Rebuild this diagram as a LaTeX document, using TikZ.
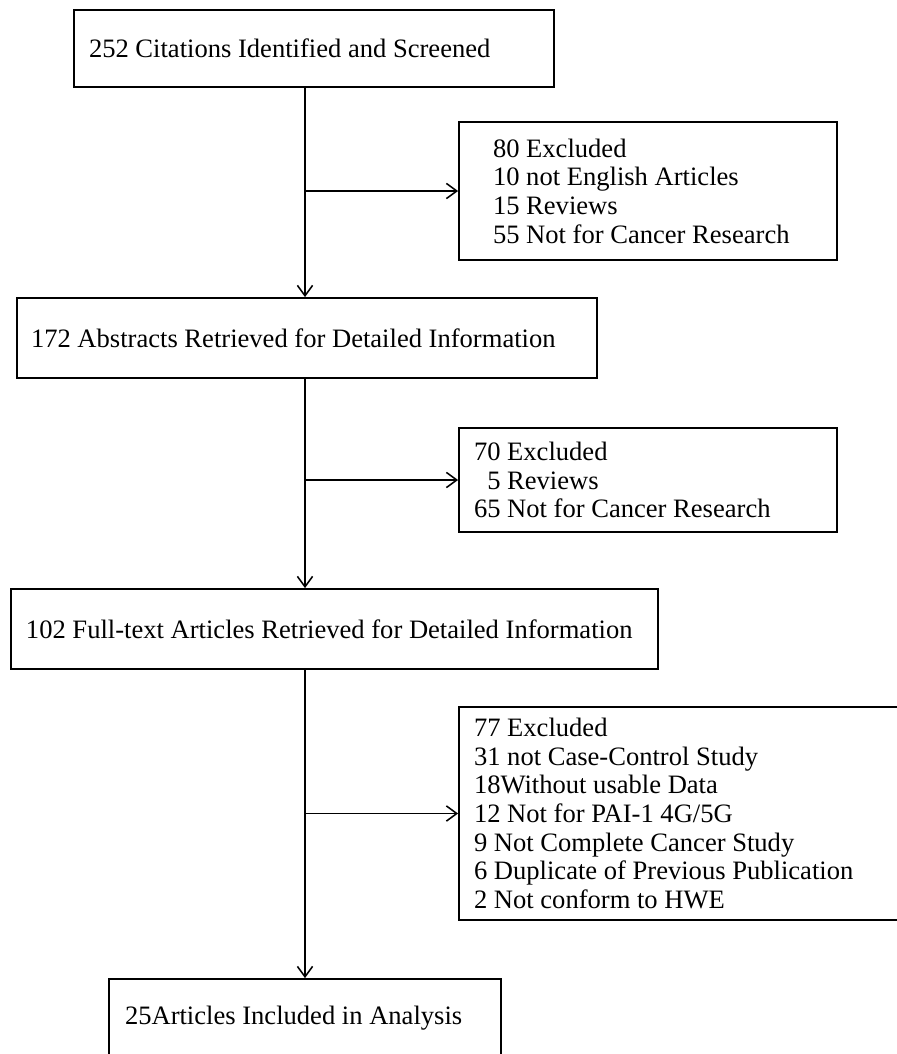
\documentclass[tikz,border=0pt]{standalone}
\usepackage{fontspec}
\setmainfont{Liberation Serif}
\usetikzlibrary{arrows.meta}

\begin{document}
\begin{tikzpicture}[>={Straight Barb[length=2.6mm,width=3.8mm]},font=\fontsize{18.9}{20.4}\selectfont,box/.style={draw,line width=1.3pt,align=flush left,inner ysep=0pt},line/.style={->,line width=1.1pt}]
\useasboundingbox[fill=white] (0,0) rectangle (22.425,-26.35);
\coordinate (spine) at (7.625,0);
\node[box,text width=11.25cm,inner xsep=0.375cm,minimum height=1.925cm] (cite) at (7.85,-1.2125) {252 Citations Identified and Screened};
\node[box,text width=7.75cm,inner xsep=0.85cm,minimum height=3.45cm] (excl1) at (16.2,-4.775) {80 Excluded\\10 not English Articles\\15 Reviews\\55 Not for Cancer Research};
\node[box,text width=13.8cm,inner xsep=0.35cm,minimum height=2cm] (abstr) at (7.675,-8.45) {172 Abstracts Retrieved for Detailed Information};
\node[box,text width=8.7cm,inner xsep=0.375cm,minimum height=2.6cm] (excl2) at (16.2,-12) {70 Excluded\\\hphantom{0}5 Reviews\\65 Not for Cancer Research};
\node[box,text width=15.425cm,inner xsep=0.375cm,minimum height=2cm] (full) at (8.3625,-15.725) {102 Full-text Articles Retrieved for Detailed Information};
\node[box,text width=10.4cm,inner xsep=0.375cm,minimum height=5.325cm] (excl3) at (17.05,-20.3375) {77 Excluded\\31 not Case-Control Study\\18Without usable Data\\12 Not for PAI-1 4G/5G\\9 Not Complete Cancer Study\\6 Duplicate of Previous Publication\\2 Not conform to HWE};
\node[box,text width=9cm,inner xsep=0.4cm,minimum height=1.95cm] (incl) at (7.625,-25.45) {25Articles Included in Analysis};
\draw[line] (cite.south -| spine) -- (abstr.north -| spine);
\draw[line] (excl1.west -| spine) -- (excl1.west);
\draw[line] (abstr.south -| spine) -- (full.north -| spine);
\draw[line] (excl2.west -| spine) -- (excl2.west);
\draw[line] (full.south -| spine) -- (incl.north);
\draw[line] (excl3.west -| spine) -- (excl3.west);
\end{tikzpicture}
\end{document}
